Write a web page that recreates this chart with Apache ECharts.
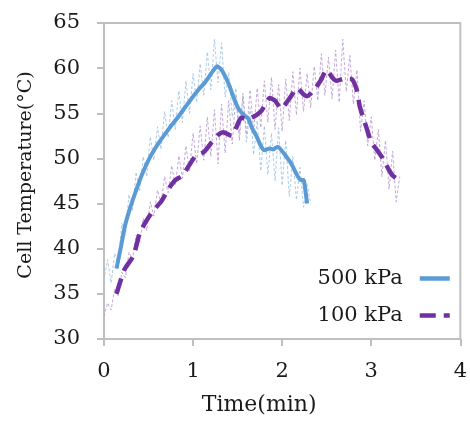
<!DOCTYPE html>
<html><head><meta charset="utf-8">
<script src="https://cdn.jsdelivr.net/npm/echarts@6/dist/echarts.min.js"></script>
<style>html,body{margin:0;padding:0;background:#fff}#c{width:470px;height:421px}</style>
</head><body><div id="c"></div>
<script>
// Tick labels
const xTicks = [0, 1, 2, 3, 4];
const yTicks = [30, 35, 40, 45, 50, 55, 60, 65];
const seriesNames = ['500 kPa', '100 kPa'];

// 500 kPa smoothed (thick) curve
const time500 = [0.14,0.19,0.23,0.28,0.33,0.38,0.43,0.52,0.62,0.73,0.84,0.95,1.06,1.14,1.21,1.27,1.32,1.37,1.41,1.46,1.51,1.56,1.62,1.66,1.71,1.76,1.80,1.86,1.90,1.95,2.00,2.04,2.09,2.13,2.17,2.21,2.24,2.26,2.28];
const temp500 = [37.8,40.2,42.3,44.1,45.6,47.0,48.3,50.2,51.8,53.3,54.7,56.2,57.6,58.5,59.5,60.2,59.8,58.9,58.0,56.6,55.5,54.9,54.4,53.4,52.5,51.4,50.9,51.1,51.0,51.3,50.8,50.3,49.6,48.9,48.1,47.6,47.6,46.5,45.0];

// 100 kPa smoothed (thick dashed) curve
const time100 = [0.14,0.23,0.33,0.40,0.47,0.55,0.64,0.73,0.80,0.88,0.96,1.03,1.12,1.21,1.28,1.34,1.43,1.51,1.54,1.60,1.65,1.71,1.77,1.86,1.92,1.99,2.05,2.10,2.17,2.23,2.28,2.36,2.43,2.50,2.56,2.61,2.69,2.78,2.84,2.87,2.91,2.95,3.00,3.06,3.13,3.20,3.24,3.28];
const temp100 = [35.0,37.7,39.2,41.7,43.0,44.2,45.2,46.7,47.6,48.1,49.3,50.3,50.7,51.8,52.6,52.9,52.5,54.0,54.5,54.4,54.5,54.8,55.3,56.7,56.4,55.5,56.2,56.9,57.8,57.2,56.9,57.6,58.6,59.8,59.0,58.6,58.8,58.8,57.5,55.8,54.5,53.3,51.8,51.0,50.0,48.7,48.1,47.8];

// 500 kPa raw (thin) measurements
const timeRaw500 = [0,0.04,0.08,0.12,0.16,0.20,0.24,0.28,0.32,0.36,0.40,0.44,0.48,0.52,0.56,0.60,0.64,0.68,0.72,0.76,0.80,0.84,0.88,0.92,0.96,1.00,1.04,1.08,1.12,1.16,1.20,1.24,1.28,1.32,1.36,1.40,1.44,1.48,1.52,1.56,1.60,1.64,1.68,1.72,1.76,1.80,1.84,1.88,1.92,1.96,2.00,2.04,2.08,2.12,2.16,2.20,2.24,2.28,2.32];
const tempRaw500 = [36.5,38.8,36.2,39.5,38.4,42.8,41.5,46.0,44.2,48.5,46.3,50.2,48.0,52.4,49.8,53.5,51.0,55.2,52.3,56.4,53.2,57.5,54.0,58.6,55.0,59.4,56.2,60.5,57.0,61.8,57.6,63.2,58.4,62.8,56.8,59.5,54.6,57.8,52.8,56.9,51.8,55.6,50.4,54.2,48.6,53.6,48.2,52.8,47.5,53.4,47.0,52.0,45.8,50.2,45.4,49.0,44.6,47.2,45.0];

// 100 kPa raw (thin) measurements
const timeRaw100 = [0,0.04,0.08,0.12,0.16,0.20,0.24,0.28,0.32,0.36,0.40,0.44,0.48,0.52,0.56,0.60,0.64,0.68,0.72,0.76,0.80,0.84,0.88,0.92,0.96,1.00,1.04,1.08,1.12,1.16,1.20,1.24,1.28,1.32,1.36,1.40,1.44,1.48,1.52,1.56,1.60,1.64,1.68,1.72,1.76,1.80,1.84,1.88,1.92,1.96,2.00,2.04,2.08,2.12,2.16,2.20,2.24,2.28,2.32,2.36,2.40,2.44,2.48,2.52,2.56,2.60,2.64,2.68,2.72,2.76,2.80,2.84,2.88,2.92,2.96,3.00,3.04,3.08,3.12,3.16,3.20,3.24,3.28,3.32];
const tempRaw100 = [32.5,34.0,33.2,35.6,34.8,37.4,36.8,39.6,38.8,41.5,40.6,43.4,42.0,45.2,43.6,46.5,45.0,48.0,46.2,49.2,47.0,50.3,47.8,51.4,48.6,52.8,49.4,53.6,49.8,54.6,50.2,55.4,49.4,56.0,50.6,56.4,51.6,57.0,52.0,57.2,52.6,57.6,53.0,57.8,53.4,58.6,54.0,59.0,53.2,58.2,53.0,58.8,54.2,59.6,54.8,60.0,55.2,59.4,55.6,60.2,56.4,61.6,57.0,61.2,56.6,62.0,56.2,63.2,57.4,61.4,56.0,59.8,53.0,56.4,51.4,54.6,49.8,53.2,48.0,52.0,46.6,50.8,45.2,48.0];

const zip = (a, b) => a.map((v, i) => [v, b[i]]);
const FONT = 'DejaVu Serif';
const TXT = '#1a1a1a';
const AX = '#bfbfbf';

const chart = echarts.init(document.getElementById('c'), null, {renderer: 'canvas'});
chart.setOption({
  animation: false,
  backgroundColor: '#fff',
  grid: {left: 104, right: 5, top: 23, bottom: 79, show: true, borderColor: AX, borderWidth: 2},
  legend: {
    data: seriesNames,
    orient: 'vertical',
    align: 'right',
    right: 13,
    top: 263,
    itemWidth: 30,
    itemHeight: 12,
    itemGap: 16,
    itemStyle: {opacity: 0},
    lineStyle: {width: 4.5},
    textStyle: {fontFamily: FONT, fontSize: 21, color: TXT, padding: [0, 12, 0, 0]}
  },
  xAxis: {
    type: 'value', min: xTicks[0], max: xTicks[xTicks.length - 1], interval: 1,
    name: 'Time(min)', nameLocation: 'middle', nameGap: 55,
    nameTextStyle: {fontFamily: FONT, fontSize: 22, color: TXT, padding: [0, 46, 0, 0]},
    axisLine: {show: true, lineStyle: {color: AX, width: 2}},
    axisTick: {show: true, length: 7, lineStyle: {color: AX, width: 2}},
    axisLabel: {margin: 22, fontFamily: FONT, fontSize: 21, color: TXT},
    splitLine: {show: false}
  },
  yAxis: {
    type: 'value', min: yTicks[0], max: yTicks[yTicks.length - 1], interval: 5,
    name: 'Cell Temperature(°C)', nameLocation: 'middle', nameGap: 68,
    nameTextStyle: {fontFamily: FONT, fontSize: 19, color: TXT, padding: [0, 0, 0, 12]},
    axisLine: {show: true, lineStyle: {color: AX, width: 2}},
    axisTick: {show: true, length: 7, lineStyle: {color: AX, width: 2}},
    axisLabel: {margin: 24, fontFamily: FONT, fontSize: 21, color: TXT},
    splitLine: {show: false}
  },
  series: [
    {name: 'raw500', type: 'line', data: zip(timeRaw500, tempRaw500), symbol: 'none',
      lineStyle: {color: '#9dc3e6', width: 1, type: [3, 2], opacity: 0.85}, z: 1},
    {name: 'raw100', type: 'line', data: zip(timeRaw100, tempRaw100), symbol: 'none',
      lineStyle: {color: '#b89ad6', width: 1, type: [3, 2], opacity: 0.85}, z: 1},
    {name: seriesNames[0], type: 'line', data: zip(time500, temp500), symbol: 'none', showSymbol: false, smooth: 0.2,
      itemStyle: {color: '#5b9bd5'},
      lineStyle: {color: '#5b9bd5', width: 4}, z: 3},
    {name: seriesNames[1], type: 'line', data: zip(time100, temp100), symbol: 'none', showSymbol: false, smooth: 0.2,
      itemStyle: {color: '#7030a0'},
      lineStyle: {color: '#7030a0', width: 4.5, type: [16, 8]}, z: 4}
  ]
});
</script></body></html>
